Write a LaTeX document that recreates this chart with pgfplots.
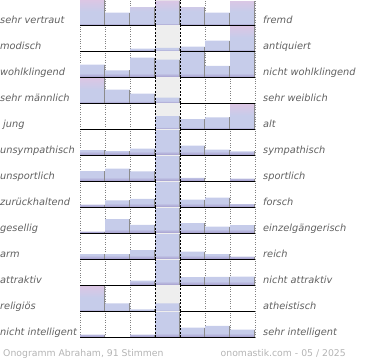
\documentclass[border=0pt]{standalone}
\usepackage{pgfplots}
\pgfplotsset{compat=1.18}
\usepackage{fontspec}
\setmainfont{DejaVu Sans}
\definecolor{bblue}{HTML}{C6CCEA}
\definecolor{bpink}{HTML}{DCC6E4}
\definecolor{bdark}{HTML}{A49CCC}
\definecolor{bgc}{HTML}{EEEEEE}
\definecolor{labc}{HTML}{606060}
\definecolor{footc}{HTML}{B4B4B4}
\pgfdeclareverticalshading{pinkbar}{100bp}{color(0bp)=(bdark); color(25bp)=(bdark); color(29bp)=(bblue); color(52bp)=(bblue); color(75bp)=(bpink); color(100bp)=(bpink)}
\pgfdeclareverticalshading{bluebar}{100bp}{color(0bp)=(bdark); color(25bp)=(bdark); color(33bp)=(bblue); color(100bp)=(bblue)}
\pgfplotsset{rowaxis/.style={scale only axis, width=175pt, height=26pt, xmin=0, xmax=7, ymin=0, ymax=1.04, hide axis, anchor=south west, clip=false}}
\tikzset{lab/.style={font=\fontsize{9.8}{11}\selectfont\itshape, text=labc, inner sep=0pt}}
\newcommand{\onorow}[5]{%
\begin{axis}[rowaxis, at={(80pt,361pt-26pt*#1)}]
\fill[bgc] (axis cs:3,0) rectangle (axis cs:4,1.04);
\draw[gray, dotted] (axis cs:0,0)--(axis cs:0,1.04) (axis cs:1,0)--(axis cs:1,1.04) (axis cs:2,0)--(axis cs:2,1.04) (axis cs:5,0)--(axis cs:5,1.04) (axis cs:6,0)--(axis cs:6,1.04) (axis cs:7,0)--(axis cs:7,1.04);
\addplot[ybar, bar width=1, bar shift=0pt, draw=none, shading=bluebar] coordinates {#4};
\addplot[ycomb, draw=gray!90, line width=0.8pt, xshift=12.3pt, no marks] coordinates {#4};
\if\relax\detokenize{#5}\relax\else
\addplot[ybar, bar width=1, bar shift=0pt, draw=none, shading=pinkbar] coordinates {#5};
\addplot[ycomb, draw=gray!90, line width=0.8pt, xshift=12.3pt, no marks] coordinates {#5};
\fi
\draw[black, dash pattern=on 2pt off 1.5pt, line width=0.7pt] (axis cs:3,0)--(axis cs:3,1.04) (axis cs:4,0)--(axis cs:4,1.04);
\draw[black, line width=1pt] (axis cs:0,0)--(axis cs:7,0);
\end{axis}
\node[lab, anchor=base west] at (0pt, 362.5pt-26pt*#1) {#2};
\node[lab, anchor=base west] at (263pt, 362.5pt-26pt*#1) {#3};
}
\begin{document}
\begin{tikzpicture}
\path[use as bounding box] (0,0) rectangle (370pt,360pt);
\onorow{1}{sehr vertraut}{fremd}{(1.5,0.5) (5.5,0.5)}{(0.5,1.0) (2.5,0.72) (3.5,0.98) (4.5,0.72) (6.5,0.96)}
\onorow{2}{modisch}{antiquiert}{(2.5,0.1) (3.5,0.13) (4.5,0.18) (5.5,0.42)}{(6.5,1.0)}
\onorow{3}{wohlklingend}{nicht wohlklingend}{(0.5,0.5) (1.5,0.27) (2.5,0.78) (3.5,0.7) (4.5,1.0) (5.5,0.45) (6.5,1.0)}{}
\onorow{4}{sehr männlich}{sehr weiblich}{(1.5,0.54) (2.5,0.38) (3.5,0.22)}{(0.5,1.0)}
\onorow{5}{\hspace{3pt}jung}{alt}{(3.5,0.52) (4.5,0.4) (5.5,0.47)}{(6.5,1.0)}
\onorow{6}{unsympathisch}{sympathisch}{(0.5,0.2) (1.5,0.16) (2.5,0.26) (3.5,1.0) (4.5,0.38) (5.5,0.22) (6.5,0.15)}{}
\onorow{7}{unsportlich}{sportlich}{(0.5,0.4) (1.5,0.5) (2.5,0.39) (3.5,1.0) (4.5,0.13) (6.5,0.1)}{}
\onorow{8}{zurückhaltend}{forsch}{(0.5,0.1) (1.5,0.27) (2.5,0.33) (3.5,1.0) (4.5,0.3) (5.5,0.38) (6.5,0.12)}{}
\onorow{9}{gesellig}{einzelgängerisch}{(0.5,0.06) (1.5,0.56) (2.5,0.33) (3.5,1.0) (4.5,0.4) (5.5,0.26) (6.5,0.32)}{}
\onorow{10}{arm}{reich}{(0.5,0.2) (1.5,0.2) (2.5,0.36) (3.5,1.0) (4.5,0.3) (5.5,0.2) (6.5,0.1)}{}
\onorow{11}{attraktiv}{nicht attraktiv}{(2.5,0.18) (3.5,1.0) (4.5,0.32) (5.5,0.33) (6.5,0.34)}{}
\onorow{12}{religiös}{atheistisch}{(1.5,0.31) (2.5,0.07) (3.5,0.31)}{(0.5,1.0)}
\onorow{13}{nicht intelligent}{sehr intelligent}{(0.5,0.1) (2.5,0.1) (3.5,1.0) (4.5,0.38) (5.5,0.45) (6.5,0.3)}{}
\node[font=\fontsize{9.3}{11}\selectfont, text=footc, inner sep=0pt, anchor=base west] at (3pt,4pt) {Onogramm Abraham, 91 Stimmen};
\node[font=\fontsize{9.3}{11}\selectfont, text=footc, inner sep=0pt, anchor=base east] at (346pt,4pt) {onomastik.com - 05 / 2025};
\end{tikzpicture}
\end{document}
